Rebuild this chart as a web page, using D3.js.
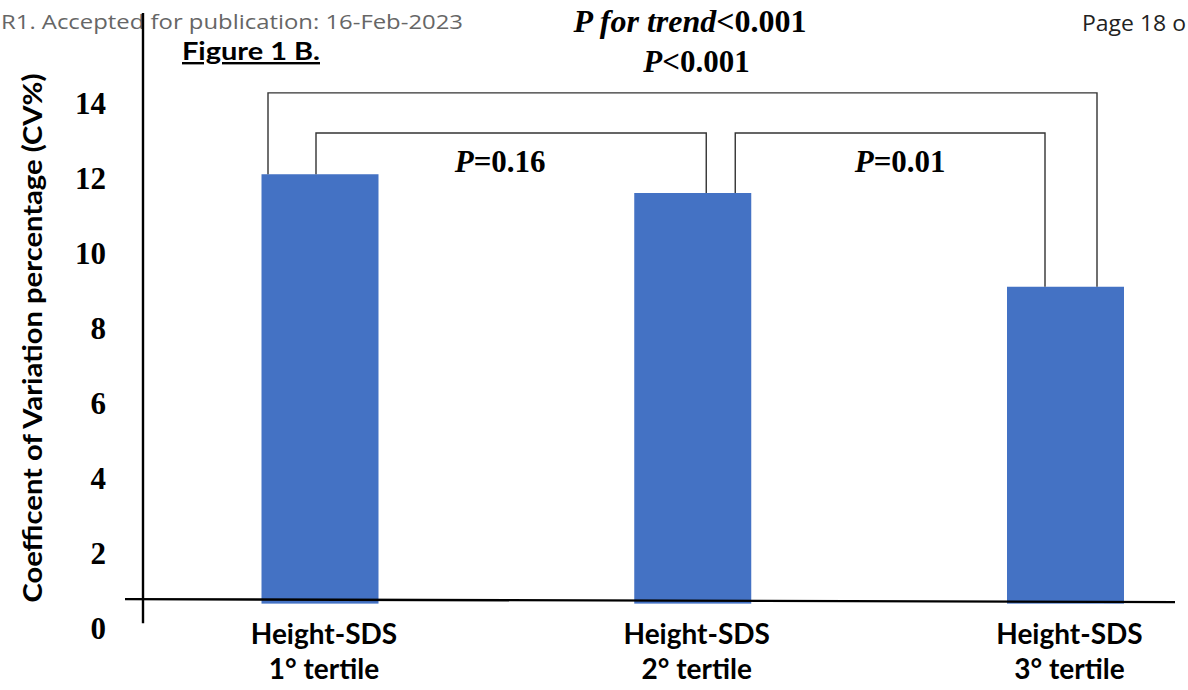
<!DOCTYPE html>
<html>
<head>
<meta charset="utf-8">
<script src="https://cdn.jsdelivr.net/npm/d3@7"></script>
<style>
  html, body { margin: 0; padding: 0; background: #fff; overflow: hidden; }
  .serif { font-family: "Liberation Serif", "Times New Roman", serif; font-weight: bold; }
  .sans { font-family: Lato, "Open Sans", sans-serif; font-weight: bold; }
</style>
</head>
<body>
<div id="app"></div>
<script>
// data
const categories = ['1° tertile', '2° tertile', '3° tertile'];
const cvValues = [12.1, 11.6, 9.1];
const yTicks = [0, 2, 4, 6, 8, 10, 12, 14];
const comparisons = [
    { from: 0, to: 2, p: '<0.001', level: 14.27 },
    { from: 0, to: 1, p: '=0.16', level: 13.2 },
    { from: 1, to: 2, p: '=0.01', level: 13.2 }
];
const trendText = '<0.001';

let width = 1188, height = 690;
let svg = d3.select('#app').append('svg').attr('width', width).attr('height', height);

let y = d3.scaleLinear().domain([0, 14]).range([628, 103]);
let x = d3.scalePoint().domain(categories).range([320, 1065.5]);
let barWidth = 117;
let barFloor = 0.65;   // bars start a bit above the "0" label in the original

// leg offsets of each bracket from the bar centres (left, right)
let legOffsets = [[-52, 31.5], [-4, 13.5], [42.5, -20.5]];
let labelOffsets = [14, -11, 10];

// page header text
svg.append('text')
    .attr('x', 1).attr('y', 29)
    .attr('fill', '#666')
    .style('font-family', '"Open Sans", sans-serif')
    .style('font-size', '20px')
    .attr('textLength', 462).attr('lengthAdjust', 'spacingAndGlyphs')
    .text('R1. Accepted for publication: 16-Feb-2023');

svg.append('text')
    .attr('x', 1082).attr('y', 31)
    .attr('fill', '#222')
    .style('font-family', '"Open Sans", sans-serif')
    .style('font-size', '22px')
    .attr('textLength', 104).attr('lengthAdjust', 'spacingAndGlyphs')
    .text('Page 18 o');

// bars
svg.selectAll('.bar').data(cvValues)
    .enter().append('rect').classed('bar', true)
    .attr('x', (d, i) => x(categories[i]) - barWidth / 2)
    .attr('width', barWidth)
    .attr('y', d => y(d))
    .attr('height', d => y(barFloor) - y(d))
    .attr('fill', '#4472C4');

// axes drawn as plain lines
svg.append('line')
    .attr('x1', 143).attr('x2', 143)
    .attr('y1', y(16.4)).attr('y2', y(0.13))
    .attr('stroke', '#000').attr('stroke-width', 2.4);

svg.append('line')
    .attr('x1', 125).attr('x2', 1175)
    .attr('y1', y(0.77)).attr('y2', y(0.69))
    .attr('stroke', '#000').attr('stroke-width', 2.3);

svg.selectAll('.ytick').data(yTicks)
    .enter().append('text').classed('ytick serif', true)
    .attr('x', 106).attr('y', d => y(d))
    .attr('dy', '0.34em')
    .attr('text-anchor', 'end')
    .style('font-size', '31px')
    .text(d => d);

// y title
svg.append('text').classed('sans', true)
    .attr('transform', 'translate(42,338) rotate(-90)')
    .attr('text-anchor', 'middle')
    .style('font-size', '26px')
    .attr('textLength', 529).attr('lengthAdjust', 'spacingAndGlyphs')
    .text('Coefficent of Variation percentage (CV%)');

// figure caption
svg.append('text').classed('sans', true)
    .attr('x', 182).attr('y', 60)
    .style('font-size', '24px')
    .style('text-decoration', 'underline')
    .attr('textLength', 138).attr('lengthAdjust', 'spacingAndGlyphs')
    .text('Figure 1 B.');

// category labels
let catLabels = svg.selectAll('.cat').data(categories)
    .enter().append('text').classed('cat sans', true)
    .attr('text-anchor', 'middle')
    .style('font-size', '28px');
catLabels.append('tspan')
    .attr('x', d => x(d) + 4).attr('y', 644)
    .text('Height-SDS');
catLabels.append('tspan')
    .attr('x', d => x(d) + 4).attr('y', 679)
    .text(d => d);

// significance brackets
comparisons.forEach(function (c, i) {
    let xl = x(categories[c.from]) + legOffsets[i][0];
    let xr = x(categories[c.to]) + legOffsets[i][1];
    let yt = y(c.level);
    let path = d3.path();
    path.moveTo(xl, y(cvValues[c.from]));
    path.lineTo(xl, yt);
    path.lineTo(xr, yt);
    path.lineTo(xr, y(cvValues[c.to]));
    svg.append('path')
        .attr('d', path.toString())
        .attr('fill', 'none')
        .attr('stroke', '#333')
        .attr('stroke-width', 1.4);

    let label = svg.append('text').classed('serif', true)
        .attr('text-anchor', 'middle')
        .style('font-size', '31px');
    if (i === 0) {
        label.attr('x', (xl + xr) / 2 + labelOffsets[i]).attr('y', yt - 21);
    } else {
        label.attr('x', (xl + xr) / 2 + labelOffsets[i]).attr('y', yt + 39);
    }
    label.append('tspan').style('font-style', 'italic').text('P');
    label.append('tspan').text(c.p);
});

// trend test on top
let trend = svg.append('text').classed('serif', true)
    .attr('x', 690).attr('y', 32)
    .attr('text-anchor', 'middle')
    .style('font-size', '32px');
trend.append('tspan').style('font-style', 'italic').text('P for trend');
trend.append('tspan').text(trendText);
</script>
</body>
</html>
